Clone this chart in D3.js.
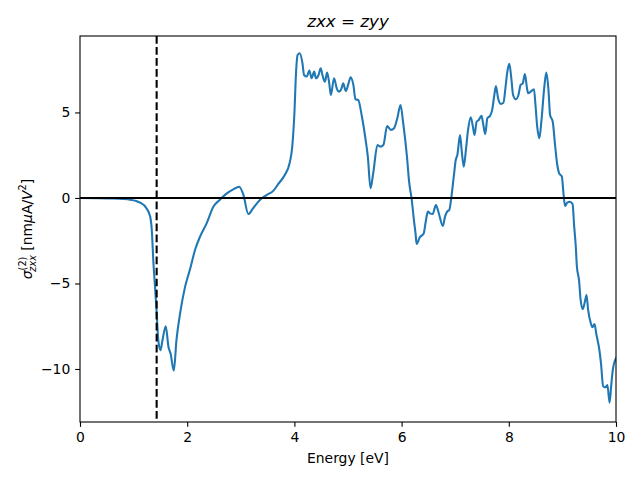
<!DOCTYPE html>
<html><head><meta charset="utf-8">
<script src="https://cdn.jsdelivr.net/npm/d3@7"></script>
<style>body{margin:0;background:#fff}svg{display:block}text{font-family:"DejaVu Sans",sans-serif}</style>
</head><body>
<script>
const energy = [0,0.3,0.6,0.8,0.93,1.05,1.12,1.24,1.31,1.34,1.37,1.40,1.43,1.46,1.50,1.54,1.60,1.65,1.69,1.75,1.80,1.87,1.96,2.05,2.15,2.24,2.36,2.49,2.61,2.74,2.86,2.97,3.05,3.14,3.23,3.36,3.48,3.61,3.70,3.82,3.91,3.96,4.0,4.03,4.06,4.10,4.15,4.18,4.23,4.28,4.32,4.37,4.40,4.45,4.49,4.53,4.57,4.61,4.65,4.68,4.74,4.79,4.83,4.88,4.91,4.96,5.01,5.05,5.10,5.14,5.19,5.26,5.32,5.37,5.42,5.47,5.55,5.60,5.66,5.73,5.80,5.86,5.92,5.98,6.03,6.10,6.14,6.19,6.23,6.26,6.28,6.34,6.41,6.45,6.49,6.53,6.58,6.64,6.69,6.77,6.81,6.85,6.89,6.93,6.98,7.01,7.04,7.09,7.12,7.16,7.20,7.24,7.29,7.33,7.36,7.40,7.44,7.49,7.52,7.56,7.60,7.65,7.69,7.73,7.76,7.80,7.85,7.90,7.94,7.97,8.01,8.05,8.08,8.13,8.18,8.22,8.26,8.30,8.34,8.36,8.41,8.47,8.50,8.53,8.57,8.61,8.66,8.70,8.74,8.77,8.82,8.86,8.90,8.94,8.99,9.02,9.05,9.09,9.14,9.19,9.22,9.25,9.27,9.31,9.34,9.38,9.42,9.45,9.48,9.53,9.56,9.60,9.63,9.69,9.72,9.76,9.80,9.84,9.88,9.91,9.94,10.0];
const sigma = [0,-0.01,-0.03,-0.06,-0.1,-0.18,-0.27,-0.6,-1.1,-1.9,-3.8,-5.2,-6.7,-8.3,-8.9,-8.3,-7.5,-8.7,-9.1,-10.1,-8.3,-6.7,-5.2,-4.2,-3.0,-2.26,-1.5,-0.5,-0.1,0.27,0.5,0.66,0.17,-0.94,-0.6,-0.1,0.17,0.43,0.82,1.34,2.03,3.0,4.95,7.3,8.36,8.46,7.88,7.19,7.1,7.45,7.0,7.39,7.0,7.19,7.58,7.1,6.8,7.33,6.7,6.02,7.0,6.41,6.22,6.41,6.7,6.26,6.7,7.06,6.61,5.77,5.73,4.75,3.58,2.42,0.57,1.44,3.1,3.0,3.1,4.2,3.98,4.08,4.66,5.44,4.37,2.42,0.95,-0.12,-1.29,-2.07,-2.69,-2.3,-2.1,-1.39,-0.8,-0.9,-0.94,-0.41,-0.85,-1.64,-1.09,-0.8,-0.7,0.08,1.44,2.22,2.51,3.68,2.81,1.83,2.81,3.98,4.72,4.17,3.68,4.46,4.56,4.8,4.37,3.74,4.66,4.8,5.15,6.02,6.55,5.83,5.5,5.57,6.51,7.33,7.84,6.9,6.02,5.77,6.02,6.61,6.7,7.25,6.41,6.12,6.22,6.36,5.34,4.17,3.49,4.56,6.41,7.33,6.32,4.85,4.46,3.2,2.03,1.44,1.25,0.27,-0.47,-0.27,-0.22,-0.35,-1.68,-2.85,-4.0,-4.8,-5.96,-6.5,-6.06,-5.67,-6.55,-7.33,-7.56,-7.37,-7.91,-8.89,-9.67,-11.0,-11.07,-10.94,-11.97,-11.0,-10.06,-9.37];
const xTicks = [0,2,4,6,8,10];
const yTicks = [-10,-5,0,5];
const gapEnergy = 1.43;
const xDomain = [0,10];
const yDomain = [-13.1,9.47];

const W=640,H=480, L=80, R=616, T=36, B=422;
const svg = d3.select("body").append("svg").attr("width",W).attr("height",H);
const x = d3.scaleLinear().domain(xDomain).range([L,R]);
const y = d3.scaleLinear().domain(yDomain).range([B,T]);
const fmt = d => d<0 ? "\u2212"+Math.abs(d) : String(d);

svg.append("clipPath").attr("id","c").append("rect").attr("x",L).attr("y",T).attr("width",R-L).attr("height",B-T);
const g = svg.append("g").attr("clip-path","url(#c)");

const data = energy.map((e,i)=>[e,sigma[i]]);
g.append("path").datum(data)
  .attr("fill","none").attr("stroke","#1f77b4").attr("stroke-width",2.08).attr("stroke-linejoin","round").attr("stroke-linecap","square")
  .attr("d", d3.line().x(d=>x(d[0])).y(d=>y(d[1])).curve(d3.curveMonotoneX));

g.append("line").attr("x1",L).attr("x2",R).attr("y1",y(0)).attr("y2",y(0))
  .attr("stroke","#000").attr("stroke-width",2.08);
g.append("line").attr("x1",x(gapEnergy)).attr("x2",x(gapEnergy)).attr("y1",T).attr("y2",B)
  .attr("stroke","#000").attr("stroke-width",2.08).attr("stroke-dasharray","7.7,3.33");

const xa = svg.append("g").attr("transform",`translate(0,${B})`)
  .call(d3.axisBottom(x).tickValues(xTicks).tickFormat(fmt).tickSize(4.86).tickPadding(4.86));
const ya = svg.append("g").attr("transform",`translate(${L},0)`)
  .call(d3.axisLeft(y).tickValues(yTicks).tickFormat(fmt).tickSize(4.86).tickPadding(4.86));
[xa,ya].forEach(a=>{
  a.select(".domain").remove();
  a.selectAll("line").attr("stroke","#000").attr("stroke-width",1.1);
  a.selectAll("text").attr("font-size","13.9px").attr("font-family","DejaVu Sans").attr("fill","#000");
});
svg.append("rect").attr("x",L).attr("y",T).attr("width",R-L).attr("height",B-T)
  .attr("fill","none").attr("stroke","#000").attr("stroke-width",1.1);

svg.append("text").attr("x",(L+R)/2).attr("y",463).attr("text-anchor","middle")
  .attr("font-size","13.9px").text("Energy [eV]");

const t = svg.append("text").attr("x",(L+R)/2).attr("y",27).attr("text-anchor","middle").attr("font-size","16.7px");
t.append("tspan").attr("font-style","italic").text("zxx");
t.append("tspan").text(" = ");
t.append("tspan").attr("font-style","italic").text("zyy");

const yl = svg.append("text").attr("transform",`translate(32,${(T+B)/2}) rotate(-90)`)
  .attr("text-anchor","middle").attr("font-size","13.9px");
yl.append("tspan").attr("font-style","italic").text("σ");
yl.append("tspan").attr("font-size","9.7px").attr("dy","-6").text("(2)");
yl.append("tspan").attr("font-size","9.7px").attr("font-style","italic").attr("dx","-15").attr("dy","10").text("zxx");
yl.append("tspan").attr("dy","-4").text(" [nm");
yl.append("tspan").attr("font-style","italic").text("μ");
yl.append("tspan").text("A/");
yl.append("tspan").attr("font-style","italic").text("V");
yl.append("tspan").attr("font-size","9.7px").attr("dy","-6").text("2");
yl.append("tspan").attr("dy","6").text("]");
</script>
</body></html>
